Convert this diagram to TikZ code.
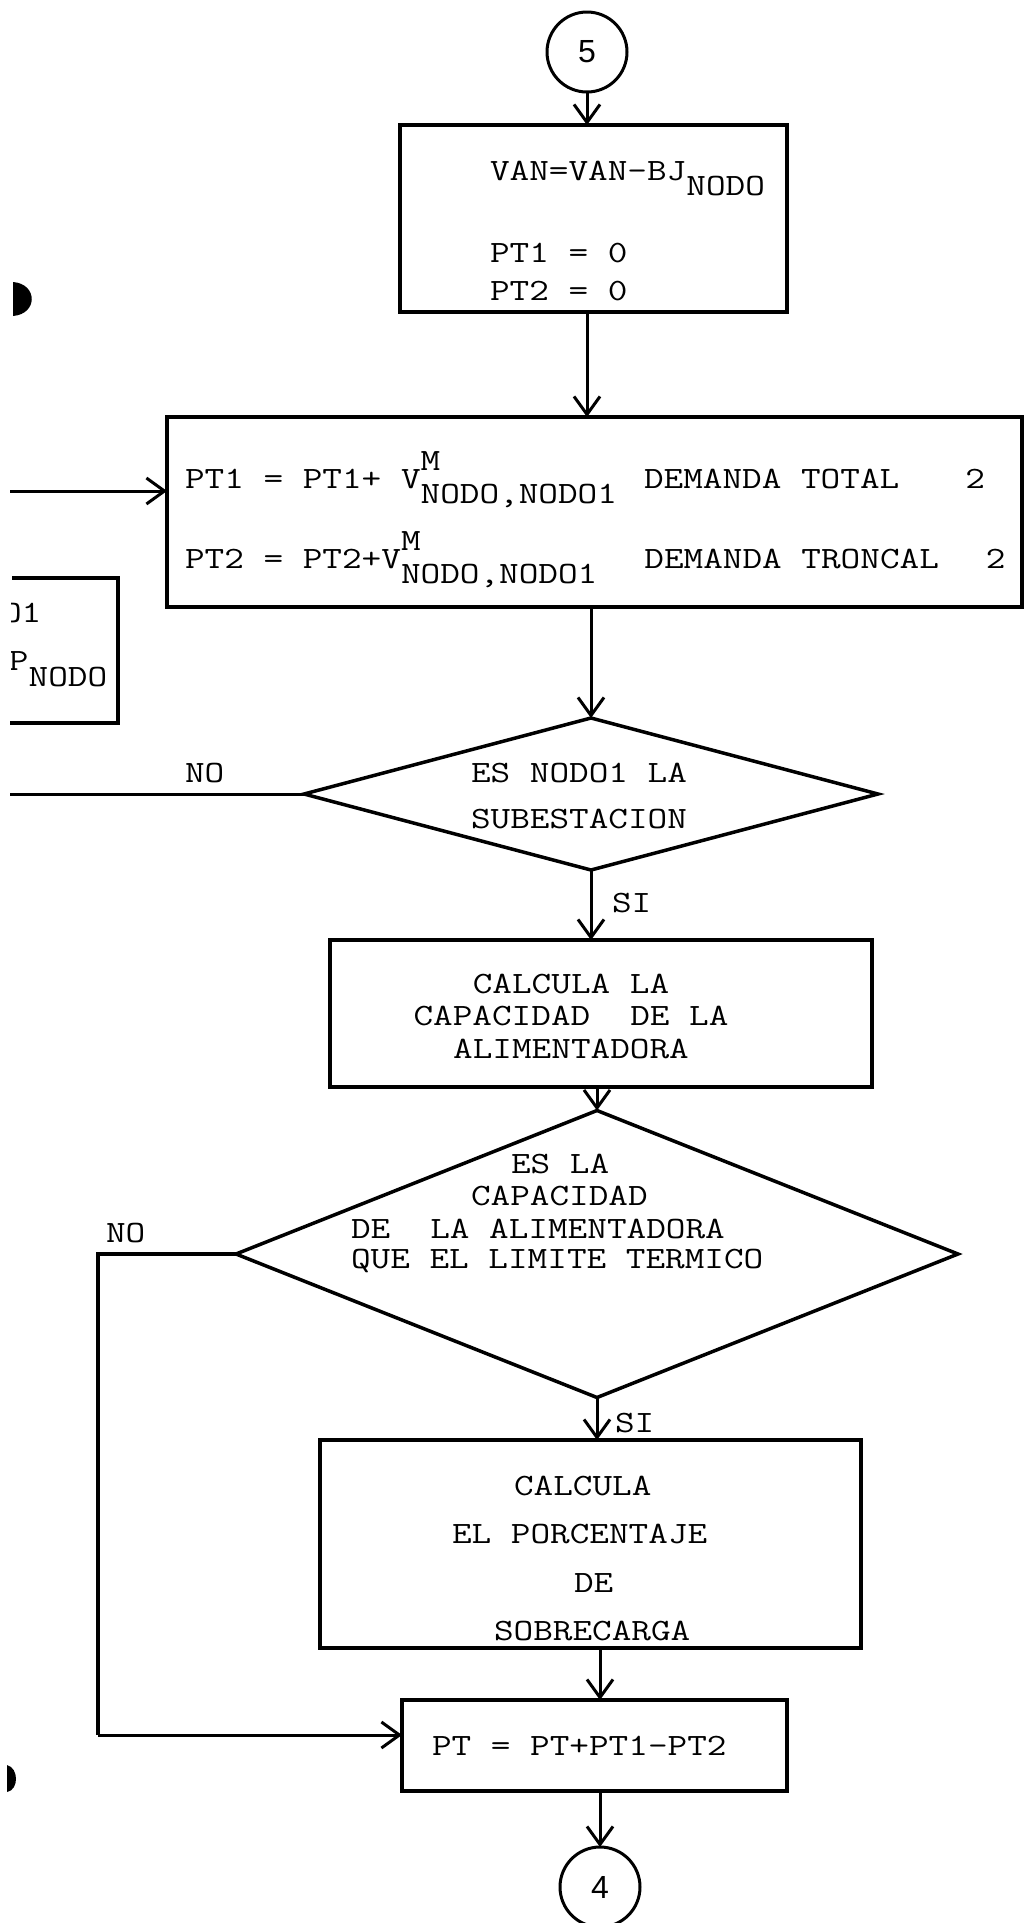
\documentclass[tikz,border=0pt]{standalone}
\usepackage{fontspec}
\usetikzlibrary{arrows.meta,shapes.geometric}
\newfontfamily\typew{Latin Modern Mono}[FakeStretch=1.23,WordSpace={1,0,0}]
\newfontfamily\handf{Liberation Sans}
\newcommand\VMsub[1]{V\rlap{\raisebox{18pt}{M}}\raisebox{-15pt}{#1}}
\begin{document}
\begin{tikzpicture}[x=1pt,y=-1pt,
  box/.style={draw,line width=3.5pt,rectangle,inner sep=0pt,outer sep=0pt,anchor=north west},
  dia/.style={draw,diamond,line width=3.5pt,inner sep=0pt,outer sep=0pt},
  conn/.style={draw,circle,line width=3pt,minimum size=80pt,inner sep=0pt,outer sep=0pt,font={\handf\fontsize{32pt}{36pt}\selectfont}},
  arr/.style={line width=3pt,-{Straight Barb[length=18pt,width=26pt]}},
  ln/.style={line width=3pt},
  txt/.style={font={\typew\fontsize{31pt}{36pt}\selectfont},inner sep=0pt,outer sep=0pt,anchor=base west},
  ctxt/.style={txt,anchor=base}]
\fill[white] (0,0) rectangle (1024,1923);
\useasboundingbox (0,0) rectangle (1024,1923);

% scan marks
\fill (13,282) .. controls (38,284) and (38,314) .. (13,316) -- cycle;
\fill (7,1765) .. controls (19,1768) and (19,1790) .. (7,1792) -- cycle;

% connectors (circles)
\node[conn] (c5) at (587,52) {5};
\node[conn] (c4) at (600,1887) {4};

% boxes
\node[box,minimum width=387pt,minimum height=187pt] (b1) at (400,125) {};
\node[box,minimum width=855pt,minimum height=190pt] (b2) at (167,417) {};
\node[box,minimum width=542pt,minimum height=147pt] (b3) at (330,940) {};
\node[box,minimum width=541pt,minimum height=208pt] (b4) at (320,1440) {};
\node[box,minimum width=385pt,minimum height=91pt] (b5) at (402,1700) {};

% decisions
\node[dia,minimum width=574pt,minimum height=152pt] (d1) at (591,794) {};
\node[dia,minimum width=722pt,minimum height=287pt] (d2) at (597,1254) {};

% partial box at left edge
\coordinate (lbA) at (12,578);
\coordinate (lbB) at (118,578);
\coordinate (lbC) at (118,723);
\coordinate (lbD) at (10,723);
\draw[line width=3.5pt] (lbA) -- (lbB) -- (lbC) -- (lbD);
\begin{scope}
\clip (11,560) rectangle (120,740);
\node[txt] (lt1) at (2,622) {O1};
\node[txt] (lt2) at (9,670) {P\raisebox{-16pt}{NODO}};
\end{scope}

% texts
\node[txt] (t1a) at (490,180) {VAN=VAN-BJ\raisebox{-15pt}{NODO}};
\node[txt] (t1b) at (490,262) {PT1 = 0};
\node[txt] (t1c) at (490,300) {PT2 = 0};

\node[txt] (t2a) at (185,488) {PT1 = PT1+ \VMsub{NODO,NODO1}\hspace{27pt}DEMANDA TOTAL\hspace{66pt}2};
\node[txt] (t2b) at (185,568) {PT2 = PT2+\VMsub{NODO,NODO1}\hspace{47pt}DEMANDA TRONCAL\hspace{47pt}2};

\node[txt] (t3a) at (471,782) {ES NODO1 LA};
\node[txt] (t3b) at (471,828) {SUBESTACION};

\node[ctxt] (t4a) at (571,993) {CALCULA LA};
\node[ctxt] (t4b) at (571,1025) {CAPACIDAD\hspace{40pt}DE LA};
\node[ctxt] (t4c) at (571,1058) {ALIMENTADORA};

\node[txt] (t5a) at (511,1173) {ES LA};
\node[txt] (t5b) at (471,1205) {CAPACIDAD};
\node[txt] (t5c) at (351,1238) {DE\hspace{40pt}LA ALIMENTADORA};
\node[txt] (t5d) at (351,1268) {QUE EL LIMITE TERMICO};

\node[txt] (t6a) at (514,1495) {CALCULA};
\node[txt] (t6b) at (452,1543) {EL PORCENTAJE};
\node[txt] (t6c) at (574,1592) {DE};
\node[txt] (t6d) at (494,1640) {SOBRECARGA};

\node[txt] (t7) at (432,1755) {PT = PT+PT1-PT2};

\node[txt] (no1) at (185,782) {NO};
\node[txt] (si1) at (612,912) {SI};
\node[txt] (no2) at (106,1242) {NO};
\node[txt] (si2) at (615,1432) {SI};

% flow lines
\draw[arr] (c5.south) -- (c5.south |- b1.north);
\draw[arr] (b1.south -| c5.south) -- (b2.north -| c5.south);
\coordinate (inL) at (10,491);
\draw[arr] (inL) -- (inL -| b2.west);
\draw[arr] (b2.south -| d1.north) -- (d1.north);
\coordinate (noL) at (10,794);
\draw[ln] (d1.west) -- (noL);
\draw[arr] (d1.south) -- (d1.south |- b3.north);
\draw[arr] (b3.south -| d2.north) -- (d2.north);
\draw[arr] (d2.south) -- (d2.south |- b4.north);
\coordinate (k1) at (98,1254);
\coordinate (k2) at (98,1735);
\draw[ln,line width=3.5pt] (d2.west) -- (k1) -- (k2);
\draw[arr] (k2) -- (k2 -| b5.west);
\draw[arr] (b4.south -| c4.north) -- (b5.north -| c4.north);
\draw[arr] (b5.south -| c4.north) -- (c4.north);
\end{tikzpicture}
\end{document}
